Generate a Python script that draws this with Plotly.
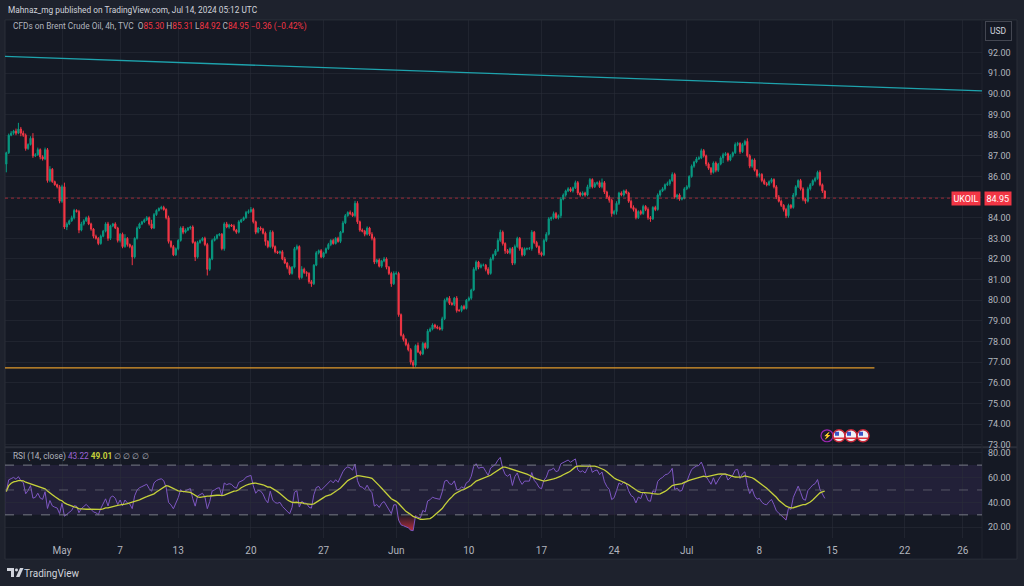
import numpy as np
import pandas as pd
import plotly.graph_objects as go

W, H = 1024, 586

# 4h closes, one row per trading day (Apr 25 starts at 04:00, Jul 12 stops after the 12:00 bar)
close_apr = [
    87.15, 88.00, 88.10, 88.20, 88.10,
    88.30, 88.10, 88.00, 87.35, 87.55, 87.85,
    87.00, 87.05, 87.30, 86.95, 86.85, 87.30,
    85.80, 86.35, 85.75, 85.60, 85.50, 84.80,
]
close_may = [
    85.50, 83.55, 83.70, 83.85, 84.00, 84.35,
    84.30, 83.40, 83.70, 83.85, 84.00, 83.70,
    83.45, 83.10, 83.00, 82.75, 83.10, 83.35,
    83.70, 83.00, 83.60, 83.70, 83.50, 82.90,
    83.20, 82.60, 83.00, 82.70, 82.60, 82.10,
    83.00, 83.50, 83.70, 83.80, 83.90, 84.00,
    83.70, 83.50, 84.15, 84.35, 84.45, 84.50,
    84.40, 84.00, 82.85, 82.60, 82.20, 82.50,
    82.90, 83.50, 83.30, 83.40, 83.50, 83.55,
    82.80, 82.10, 82.80, 82.90, 83.00, 82.70,
    81.50, 82.00, 82.90, 83.00, 83.15, 83.20,
    82.50, 83.70, 83.55, 83.65, 83.60, 83.40,
    83.30, 83.80, 83.90, 84.00, 84.25, 84.30,
    84.40, 83.80, 83.30, 83.50, 83.45, 83.25,
    82.85, 82.60, 83.30, 82.60, 82.35, 82.30,
    82.35, 82.00, 81.80, 81.60, 81.30, 81.60,
    82.50, 82.60, 81.10, 81.50, 81.35, 81.30,
    80.90, 80.80, 81.70, 82.30, 82.40, 82.10,
    82.30, 82.50, 82.70, 82.90, 82.75, 83.00,
    82.85, 83.30, 83.75, 84.10, 84.25, 84.20,
    84.10, 84.70, 83.80, 83.40, 83.35, 83.20,
    83.50, 83.20, 83.00, 81.85, 81.95, 81.65,
    81.90, 82.00, 81.60, 81.30, 80.80, 81.30,
]
close_jun = [
    81.30, 79.30, 78.30, 78.10, 77.85, 77.60,
    77.00, 76.85, 77.80, 77.50, 77.40, 77.90,
    77.70, 78.50, 78.60, 78.80, 78.70, 78.65,
    78.60, 79.10, 80.00, 80.10, 79.85, 79.80,
    80.10, 79.50, 79.50, 79.70, 79.60, 80.00,
    80.10, 80.50, 81.50, 81.85, 81.60, 81.70,
    81.70, 81.50, 81.30, 82.00, 82.20, 82.40,
    82.90, 83.30, 82.75, 82.40, 82.30, 82.50,
    81.80, 82.60, 83.00, 82.50, 82.20, 82.50,
    82.50, 82.50, 83.30, 82.80, 82.60, 82.30,
    82.20, 82.90, 83.20, 83.95, 84.00, 84.20,
    84.00, 84.10, 84.90, 85.10, 85.30, 85.40,
    85.30, 85.45, 85.70, 85.20, 85.10, 85.20,
    85.10, 85.50, 85.85, 85.50, 85.65, 85.70,
    85.50, 85.70, 85.25, 85.00, 84.85, 84.20,
    84.30, 84.70, 85.20, 85.10, 85.30, 85.20,
    84.80, 84.50, 84.40, 84.00, 84.30, 84.20,
    84.55, 84.40, 84.00, 83.95, 84.50, 84.40,
    85.10, 85.30, 85.40, 85.60, 85.65, 85.80,
    86.10, 85.00, 85.10, 84.90, 84.95, 85.40,
]
close_jul = [
    85.50, 86.00, 86.50, 86.70, 86.85, 86.90,
    87.25, 87.00, 86.60, 86.40, 86.20, 86.65,
    86.30, 86.60, 86.90, 87.05, 87.10, 86.80,
    87.00, 87.15, 87.55, 87.60, 87.20, 87.55,
    87.70, 87.00, 86.50, 86.80, 86.30, 86.05,
    86.10, 85.80, 85.65, 85.60, 85.75, 85.85,
    85.50, 85.00, 84.80, 84.60, 84.40, 84.10,
    84.60, 84.50, 85.10, 85.50, 85.80, 85.40,
    84.90, 84.80, 85.40, 85.60, 85.80, 85.90,
    86.20, 85.60, 85.30, 84.95,
]

# upper / lower wick length past the body, in cents
up_apr = [5, 8, 10, 6, 12, 30, 10, 12, 8, 6, 10, 25, 8, 10, 6, 8, 10, 8, 15, 6, 5, 5, 8]
dn_apr = [40, 6, 5, 8, 10, 5, 15, 8, 10, 6, 5, 10, 6, 5, 12, 8, 6, 10, 8, 6, 5, 8, 10]
up_may = [
    10, 20, 8, 6, 10, 8,  6, 8, 10, 8, 6, 10,  6, 5, 8, 6, 8, 6,
    8, 10, 6, 5, 8, 6,  6, 8, 20, 6, 5, 8,  5, 8, 6, 5, 6, 8,
    6, 20, 8, 6, 5, 8,  8, 6, 10, 6, 8, 6,  6, 8, 10, 8, 5, 6,
    8, 6, 8, 5, 6, 8,  8, 6, 8, 10, 6, 5,  6, 8, 10, 6, 5, 8,
    6, 8, 5, 6, 8, 10,  12, 8, 6, 5, 8, 6,  8, 6, 10, 8, 6, 5,
    6, 8, 10, 6, 8, 6,  8, 10, 6, 15, 8, 6,  6, 8, 5, 8, 6, 8,
    5, 6, 8, 6, 8, 6,  8, 6, 10, 8, 6, 10,  8, 12, 10, 6, 8, 6,
    8, 6, 10, 8, 6, 8,  6, 10, 8, 6, 8, 10,
]
dn_may = [
    8, 10, 15, 6, 5, 8,  5, 15, 6, 8, 5, 6,  8, 10, 6, 8, 6, 5,
    6, 12, 8, 6, 5, 10,  10, 8, 6, 10, 8, 40,  8, 6, 5, 6, 5, 6,
    8, 6, 5, 6, 5, 6,  6, 8, 10, 8, 6, 5,  8, 6, 10, 6, 5, 8,
    6, 20, 8, 6, 5, 8,  30, 8, 6, 5, 6, 5,  8, 10, 6, 8, 5, 6,
    8, 6, 5, 6, 5, 6,  6, 8, 10, 6, 8, 6,  20, 8, 6, 10, 8, 6,
    8, 6, 5, 10, 8, 6,  6, 8, 10, 6, 8, 15,  10, 15, 6, 5, 8, 6,
    6, 5, 6, 8, 6, 5,  6, 8, 5, 6, 5, 8,  6, 8, 10, 8, 6, 10,
    6, 8, 10, 10, 8, 6,  8, 6, 10, 8, 15, 6,
]
up_jun = [
    10, 8, 6, 8, 6, 10,  8, 10, 6, 15, 6, 8,  6, 10, 8, 8, 6, 8,
    8, 10, 8, 6, 10, 8,  6, 10, 8, 6, 8, 6,  8, 6, 10, 8, 6, 8,
    8, 6, 10, 8, 6, 8,  10, 12, 8, 6, 8, 6,  8, 10, 8, 6, 8, 6,
    6, 8, 10, 6, 8, 6,  6, 8, 10, 8, 6, 10,  8, 6, 10, 8, 6, 8,
    8, 6, 10, 8, 6, 8,  6, 10, 8, 6, 8, 6,  10, 20, 8, 6, 8, 6,
    8, 10, 6, 8, 6, 8,  6, 8, 10, 8, 6, 8,  8, 6, 10, 8, 6, 8,
    8, 6, 8, 6, 10, 8,  10, 8, 6, 8, 6, 8,
]
dn_jun = [
    8, 10, 6, 10, 8, 8,  12, 15, 8, 6, 8, 6,  8, 6, 5, 6, 8, 6,
    6, 8, 6, 10, 8, 6,  8, 10, 6, 8, 6, 5,  6, 8, 6, 8, 10, 6,
    6, 10, 8, 6, 8, 6,  6, 8, 10, 15, 6, 8,  10, 8, 6, 10, 8, 6,
    8, 6, 10, 8, 6, 10,  8, 6, 8, 6, 10, 8,  6, 8, 12, 6, 8, 6,
    6, 8, 6, 10, 8, 6,  8, 6, 10, 8, 6, 8,  6, 8, 10, 8, 12, 15,
    6, 15, 8, 6, 8, 6,  8, 6, 10, 8, 6, 8,  6, 8, 10, 15, 6, 8,
    6, 8, 6, 8, 6, 10,  6, 8, 12, 8, 6, 6,
]
up_jul = [
    8, 6, 8, 6, 10, 8,  10, 8, 6, 8, 6, 8,  8, 6, 8, 10, 8, 6,
    8, 6, 10, 8, 6, 8,  8, 15, 8, 6, 8, 6,  8, 6, 10, 8, 6, 8,
    6, 8, 10, 8, 6, 8,  8, 6, 10, 8, 6, 8,  8, 6, 10, 8, 6, 8,
    8, 10, 6, 1,
]
dn_jul = [
    6, 8, 6, 8, 6, 5,  6, 8, 10, 8, 12, 6,  10, 8, 6, 25, 6, 8,
    6, 8, 6, 8, 10, 6,  6, 8, 10, 8, 6, 10,  10, 8, 6, 8, 6, 8,
    8, 10, 6, 8, 10, 12,  10, 8, 6, 8, 6, 8,  10, 12, 6, 8, 6, 8,
    6, 8, 10, 3,
]
first_open = 86.60
rsi_seed = (0.11, 0.16)  # starting average gain / loss

tick_dates = ["2024-05-01", "2024-05-07", "2024-05-13", "2024-05-20", "2024-05-27",
              "2024-06-03", "2024-06-10", "2024-06-17", "2024-06-24", "2024-07-01",
              "2024-07-08", "2024-07-15", "2024-07-22", "2024-07-26"]
tick_labels = ["May", "7", "13", "20", "27", "Jun", "10", "17", "24", "Jul", "8", "15", "22", "26"]
price_ticks = [73, 74, 75, 76, 77, 78, 79, 80, 81, 82, 83, 84, 85, 86, 87, 88, 89, 90, 91, 92]
rsi_ticks = [20, 40, 60, 80]

trend_x = ["2024-04-25 01:50", "2024-07-29 07:40"]
trend_y = [91.82, 90.15]
support_x = ["2024-04-25 01:50", "2024-07-17 22:00"]
support_y = [76.72, 76.72]
last_price = 84.95

# ---- build bars
closes = close_apr + close_may + close_jun + close_jul
ups = up_apr + up_may + up_jun + up_jul
dns = dn_apr + dn_may + dn_jun + dn_jul
days = pd.bdate_range("2024-04-25", "2024-07-12")
stamps = [d + pd.Timedelta(hours=h) for d in days for h in range(0, 24, 4)][1:-2]
assert len(closes) == len(stamps) == len(ups) == len(dns), (len(closes), len(stamps), len(ups), len(dns))

df = pd.DataFrame({"time": stamps, "close": closes})
df["open"] = [first_open] + closes[:-1]
df["high"] = df[["open", "close"]].max(axis=1) + np.array(ups) / 100
df["low"] = df[["open", "close"]].min(axis=1) - np.array(dns) / 100

# RSI(14, Wilder) and its 14 bar average
g_avg, l_avg = rsi_seed
rsi = []
for o, c in zip(df["open"], df["close"]):
    d = c - o
    g_avg = (g_avg * 13 + max(d, 0)) / 14
    l_avg = (l_avg * 13 + max(-d, 0)) / 14
    rsi.append(100 - 100 / (1 + g_avg / l_avg))
df["rsi"] = rsi
df["rsi_ma"] = df["rsi"].rolling(14, min_periods=1).mean()


def px(x):
    return x / W


def py(y):
    return 1 - y / H


X0, X1 = px(5), px(982)
BG = "#151924"
GRID = "rgba(42,46,57,0.55)"
TXT = "#b2b5be"
FONT = "Roboto"

fig = go.Figure()
fig.add_trace(go.Candlestick(
    x=df["time"], open=df["open"], high=df["high"], low=df["low"], close=df["close"],
    increasing=dict(line=dict(color="#089981", width=1), fillcolor="#089981"),
    decreasing=dict(line=dict(color="#f23645", width=1), fillcolor="#f23645"),
    whiskerwidth=0, xaxis="x", yaxis="y", hoverinfo="skip"))
fig.add_trace(go.Scatter(x=trend_x, y=trend_y, mode="lines",
                         line=dict(color="#1ea3ad", width=1.3), xaxis="x", yaxis="y"))
fig.add_trace(go.Scatter(x=support_x, y=support_y, mode="lines",
                         line=dict(color="#e09a2a", width=1.2), xaxis="x", yaxis="y"))

# oversold fill under 30
fig.add_trace(go.Scatter(x=df["time"], y=[30] * len(df), mode="lines",
                         line=dict(width=0), xaxis="x2", yaxis="y2"))
fig.add_trace(go.Scatter(x=df["time"], y=np.minimum(df["rsi"], 30), mode="lines",
                         line=dict(width=0), fill="tonexty",
                         fillgradient=dict(type="vertical", start=14, stop=30,
                                           colorscale=[[0, "rgba(242,54,69,0.95)"],
                                                       [1, "rgba(242,54,69,0.05)"]]),
                         xaxis="x2", yaxis="y2"))
fig.add_trace(go.Scatter(x=df["time"], y=df["rsi"], mode="lines",
                         line=dict(color="#7e57c2", width=1), xaxis="x2", yaxis="y2"))
fig.add_trace(go.Scatter(x=df["time"], y=df["rsi_ma"], mode="lines",
                         line=dict(color="#c6d13a", width=1.3), xaxis="x2", yaxis="y2"))

shapes = [
    # chart frame
    dict(type="rect", xref="paper", yref="paper", x0=px(5), x1=px(1017), y0=py(562), y1=py(20),
         fillcolor=BG, line=dict(color="#2a2e39", width=1), layer="below"),
    dict(type="line", xref="paper", yref="paper", x0=px(5), x1=px(1017), y0=py(449.5), y1=py(449.5),
         line=dict(color="#2a2e39", width=2), layer="below"),
    dict(type="line", xref="paper", yref="paper", x0=X1, x1=X1, y0=py(562), y1=py(20),
         line=dict(color="#20242f", width=1), layer="below"),
    # rsi band and levels
    dict(type="rect", xref="paper", yref="y2", x0=X0, x1=X1, y0=30, y1=70,
         fillcolor="rgba(126,87,194,0.13)", line=dict(width=0), layer="below"),
    dict(type="line", xref="paper", yref="y2", x0=X0, x1=X1, y0=70, y1=70,
         line=dict(color="#787b86", width=1, dash="dash")),
    dict(type="line", xref="paper", yref="y2", x0=X0, x1=X1, y0=50, y1=50,
         line=dict(color="rgba(120,123,134,0.6)", width=1, dash="dash")),
    dict(type="line", xref="paper", yref="y2", x0=X0, x1=X1, y0=30, y1=30,
         line=dict(color="#787b86", width=1, dash="dash")),
    # last price line
    dict(type="line", xref="paper", yref="y", x0=X0, x1=X1, y0=last_price, y1=last_price,
         line=dict(color="rgba(242,54,69,0.6)", width=1, dash="dot")),
]

# event icons
shapes.append(dict(type="circle", xref="paper", yref="paper", x0=px(821), x1=px(833), y0=py(444), y1=py(432),
                   fillcolor="#1c1a2b", line=dict(color="#9c27b0", width=1.2)))
for cx in [839, 851, 863]:
    shapes.append(dict(type="circle", xref="paper", yref="paper", x0=px(cx - 6), x1=px(cx + 6),
                       y0=py(444), y1=py(432), fillcolor="#eef0f6", line=dict(color="#c62838", width=1.5)))
    shapes.append(dict(type="rect", xref="paper", yref="paper", x0=px(cx - 4), x1=px(cx), y0=py(438),
                       y1=py(434), fillcolor="#3a56c8", line=dict(width=0)))
    shapes.append(dict(type="line", xref="paper", yref="paper", x0=px(cx - 5), x1=px(cx + 5), y0=py(440.5),
                       y1=py(440.5), line=dict(color="#e0303c", width=1.5)))


def pth(points):
    return "M " + " L ".join(f"{px(a):.5f},{py(b):.5f}" for a, b in points) + " Z"


# TradingView logo mark
shapes.append(dict(type="path", xref="paper", yref="paper",
                   path=pth([(7, 571), (14, 571), (14, 580), (11, 580), (11, 574), (7, 574)]),
                   fillcolor="#d1d4dc", line=dict(width=0)))
shapes.append(dict(type="circle", xref="paper", yref="paper", x0=px(15), x1=px(18), y0=py(574.5), y1=py(571.5),
                   fillcolor="#d1d4dc", line=dict(width=0)))
shapes.append(dict(type="path", xref="paper", yref="paper",
                   path=pth([(16, 580), (20, 571), (23.5, 571), (19.5, 580)]),
                   fillcolor="#d1d4dc", line=dict(width=0)))

red = "#f23645"
legend = (f"CFDs on Brent Crude Oil, 4h, TVC  O<span style='color:{red}'>85.30</span> "
          f"H<span style='color:{red}'>85.31</span> L<span style='color:{red}'>84.92</span> "
          f"C<span style='color:{red}'>84.95</span> <span style='color:{red}'>−0.36 (−0.42%)</span>")
rsi_legend = ("RSI (14, close) <span style='color:#9a63d6'>43.22</span> "
              "<b><span style='color:#c6d13a'>49.01</span></b> ∅ ∅ ∅ ∅")

annotations = [
    dict(text="Mahnaz_mg published on TradingView.com, Jul 14, 2024 05:12 UTC", x=px(6), y=py(10),
         font=dict(size=8.3, color="#d1d4dc")),
    dict(text=legend, x=px(11), y=py(27), font=dict(size=8.3, color=TXT)),
    dict(text=rsi_legend, x=px(11), y=py(459), font=dict(size=8.3, color=TXT)),
    dict(text="TradingView", x=px(22), y=py(576), font=dict(size=10, color="#d1d4dc")),
    dict(text="⚡", x=px(827), y=py(438), xanchor="center", font=dict(size=7, color="#b04fd0")),
    dict(text="USD", x=px(998.5), y=py(31), xanchor="center", font=dict(size=8.5, color="#d1d4dc"),
         bordercolor="#434651", borderwidth=1, borderpad=4, bgcolor=BG),
]
for a in annotations:
    a.update(xref="paper", yref="paper", showarrow=False)
    a.setdefault("xanchor", "left")
    a.setdefault("yanchor", "middle")
annotations += [
    dict(text="UKOIL", xref="paper", yref="y", x=px(966), y=last_price, showarrow=False,
         font=dict(size=9, color="white"), bgcolor=red, borderpad=1.5, xanchor="center", yanchor="middle"),
    dict(text="84.95", xref="paper", yref="y", x=px(998), y=last_price, showarrow=False,
         font=dict(size=9, color="white"), bgcolor=red, borderpad=1.5, xanchor="center", yanchor="middle"),
]

# the last-price badge covers the 85.00 label
price_text = ["" if v == 85 else f"{v:.2f}" for v in price_ticks]

xcommon = dict(type="date", domain=[X0, X1], range=["2024-04-25 01:50", "2024-07-29 07:40"],
               rangebreaks=[dict(bounds=["sat", "mon"])], tickvals=tick_dates, showgrid=True,
               gridcolor=GRID, gridwidth=1, zeroline=False, showline=False, ticks="")

fig.update_layout(
    width=W, height=H, margin=dict(l=0, r=0, t=0, b=0),
    paper_bgcolor="#1e222d", plot_bgcolor="rgba(0,0,0,0)",
    font=dict(family=FONT, color=TXT, size=9.5), showlegend=False, hovermode=False,
    xaxis=dict(xcommon, anchor="y", showticklabels=False, rangeslider=dict(visible=False)),
    xaxis2=dict(xcommon, anchor="y2", matches="x", ticktext=tick_labels, showticklabels=True,
                tickfont=dict(size=10, color=TXT), ticklabelstandoff=5),
    yaxis=dict(domain=[py(449), py(20)], range=[72.90, 93.59], side="right", anchor="x",
               tickvals=price_ticks, ticktext=price_text, gridcolor=GRID, zeroline=False,
               tickfont=dict(size=9, color=TXT), ticklabelstandoff=5, ticks=""),
    yaxis2=dict(domain=[py(541), py(450)], range=[11.2, 84], side="right", anchor="x2",
                tickvals=rsi_ticks, tickformat=".2f", gridcolor=GRID, zeroline=False,
                tickfont=dict(size=9, color=TXT), ticklabelstandoff=5, ticks=""),
    shapes=shapes, annotations=annotations,
)

# page body has a default margin; drop it so the figure sits at the window's corner
fig.write_html("out.html", config={"displayModeBar": False},
               post_script="document.body.style.margin='0';")
